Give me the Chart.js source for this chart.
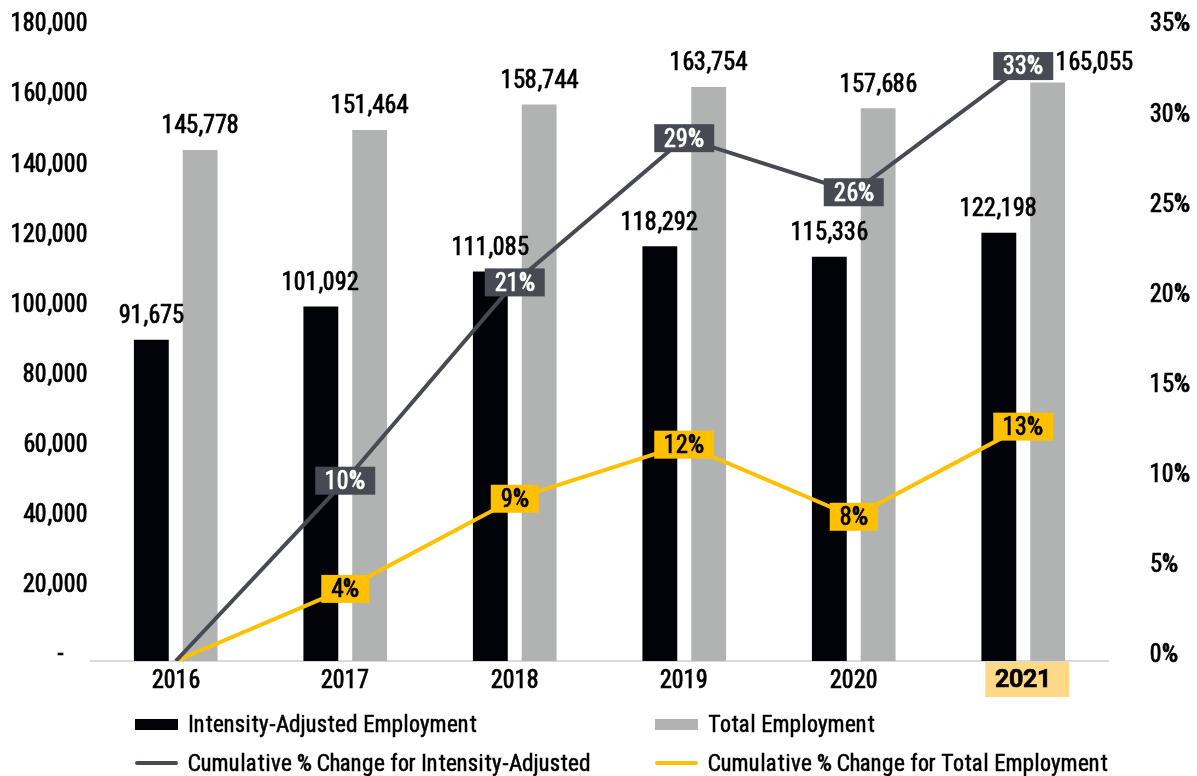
<!DOCTYPE html>
<html>
<head>
<meta charset="utf-8">
<script src="https://cdn.jsdelivr.net/npm/chart.js@4.4.1/dist/chart.umd.min.js"></script>
<style>
  @font-face { font-family: 'ChartCond'; font-weight: 400;
               src: local('Roboto Condensed'), local('RobotoCondensed-Regular'); }
  @font-face { font-family: 'ChartCond'; font-weight: 700;
               src: local('Roboto Condensed Bold'), local('RobotoCondensed-Bold'); }
  html, body { margin: 0; padding: 0; background: #ffffff; }
  #wrap { position: relative; width: 1197px; height: 776px; overflow: hidden; }
  #chart { position: absolute; left: 0; top: 0; }
  .lg-item { position: absolute; height: 30px; display: flex; align-items: center;
             font-family: 'ChartCond', 'Open Sans', sans-serif;
             font-size: 23px; color: #000; white-space: nowrap;
             -webkit-text-stroke: 0.5px #000; }
  .lg-swatch { width: 43px; margin-right: 10px; flex: none; }
</style>
</head>
<body>
<div id="wrap">
  <canvas id="chart" width="1197" height="776"></canvas>
  <div id="legend"></div>
</div>
<script>
// Employment counts per year
const years = ['2016', '2017', '2018', '2019', '2020', '2021'];
const intensityAdjusted = [91675, 101092, 111085, 118292, 115336, 122198];
const totalEmployment = [145778, 151464, 158744, 163754, 157686, 165055];

// Cumulative % change since 2016
const intensityChange = [0, 10, 21, 29, 26, 33];
const totalChange = [0, 4, 9, 12, 8, 13];

// Axis ticks
const countTicks = [0, 20000, 40000, 60000, 80000, 100000, 120000, 140000, 160000, 180000];
const pctTicks = [0, 5, 10, 15, 20, 25, 30, 35];

const highlightYear = '2021';

const FONT = "'ChartCond', 'Open Sans', sans-serif";
const STROKE = 0.7;
const C_BLACK = '#020308';
const C_GRAY = '#b1b3b3';
const C_SLATE = '#474a52';
const C_GOLD = '#ffc000';
const C_HILITE = '#ffd988';

const fmt = v => v.toLocaleString('en-US');

function label(ctx, txt, x, y, color) {
  ctx.strokeStyle = color;
  ctx.lineWidth = STROKE;
  ctx.lineJoin = 'round';
  ctx.strokeText(txt, x, y);
  ctx.fillStyle = color;
  ctx.fillText(txt, x, y);
}

// Values above the bars and boxed values on the lines
const valueLabels = {
  id: 'valueLabels',
  afterDatasetsDraw(chart) {
    const ctx = chart.ctx;
    ctx.save();
    ctx.font = `25px ${FONT}`;
    ctx.textAlign = 'center';
    ctx.textBaseline = 'middle';
    chart.data.datasets.forEach((ds, i) => {
      if (ds.type !== 'bar') return;
      const meta = chart.getDatasetMeta(i);
      meta.data.forEach((el, j) => {
        // the last total label sits beside the line's end box
        const beside = ds.label === 'Total Employment' && j === meta.data.length - 1;
        label(ctx, fmt(ds.data[j]), el.x + (beside ? 47 : 0), el.y - (beside ? 20 : 24), '#000');
      });
    });
    chart.data.datasets.forEach((ds, i) => {
      if (ds.type !== 'line') return;
      const meta = chart.getDatasetMeta(i);
      meta.data.forEach((el, j) => {
        const v = ds.data[j];
        if (!v) return;
        const txt = v + '%';
        const w = ctx.measureText(txt).width + 20;
        const h = 28;
        ctx.fillStyle = ds.boxColor;
        ctx.fillRect(el.x - w / 2, el.y - h / 2, w, h);
        label(ctx, txt, el.x, el.y + 1, ds.boxText);
      });
    });
    ctx.restore();
  }
};

// Shaded background behind the highlighted year on the category axis
const yearHighlight = {
  id: 'yearHighlight',
  beforeDraw(chart) {
    const x = chart.scales.x;
    const idx = years.indexOf(highlightYear);
    if (idx < 0) return;
    const cx = x.getPixelForValue(idx);
    const ctx = chart.ctx;
    ctx.save();
    ctx.fillStyle = C_HILITE;
    ctx.fillRect(cx - 38, x.top, 84, 36);
    ctx.restore();
  }
};

const tickText = { color: '#000', textStrokeColor: '#000', textStrokeWidth: STROKE };

function build() {
  const chart = new Chart(document.getElementById('chart'), {
    data: {
      labels: years,
      datasets: [
        {
          type: 'line', label: 'Cumulative % Change for Intensity-Adjusted',
          data: intensityChange, yAxisID: 'y2', order: 0,
          borderColor: C_SLATE, borderWidth: 4, pointRadius: 0, tension: 0,
          boxColor: C_SLATE, boxText: '#ffffff'
        },
        {
          type: 'line', label: 'Cumulative % Change for Total Employment',
          data: totalChange, yAxisID: 'y2', order: 0,
          borderColor: C_GOLD, borderWidth: 4, pointRadius: 0, tension: 0,
          boxColor: C_GOLD, boxText: '#000000'
        },
        {
          type: 'bar', label: 'Intensity-Adjusted Employment',
          data: intensityAdjusted, yAxisID: 'y', order: 1,
          backgroundColor: C_BLACK, categoryPercentage: 0.576, barPercentage: 0.714
        },
        {
          type: 'bar', label: 'Total Employment',
          data: totalEmployment, yAxisID: 'y', order: 1,
          backgroundColor: C_GRAY, categoryPercentage: 0.576, barPercentage: 0.714
        }
      ]
    },
    options: {
      responsive: false,
      animation: false,
      devicePixelRatio: 1,
      layout: { padding: { top: 30, bottom: 79, left: 0, right: 0 } },
      plugins: { legend: { display: false }, tooltip: { enabled: false } },
      scales: {
        x: {
          grid: { display: false, drawTicks: false },
          border: { display: true, color: '#d9d9d9', width: 2 },
          ticks: {
            ...tickText, padding: 5,
            font: c => ({ family: FONT, size: 25, weight: (years[c.index] === highlightYear ? 'bold' : 'normal') })
          },
          afterFit(s) { s.height = 36; }
        },
        y: {
          position: 'left', min: 0, max: 180000,
          afterBuildTicks(s) { s.ticks = countTicks.map(v => ({ value: v })); },
          grid: { display: false, drawTicks: false },
          border: { display: false },
          ticks: {
            ...tickText, padding: 3, labelOffset: -6,
            font: { family: FONT, size: 25 },
            callback: v => v === 0 ? '-    ' : fmt(v)
          },
          afterFit(s) { s.width = 91; s.paddingTop = 0; s.paddingBottom = 0; }
        },
        y2: {
          position: 'right', min: 0, max: 35,
          afterBuildTicks(s) { s.ticks = pctTicks.map(v => ({ value: v })); },
          grid: { display: false, drawTicks: false },
          border: { display: false },
          ticks: {
            ...tickText, padding: 42, labelOffset: -6,
            font: { family: FONT, size: 25 },
            callback: v => v + '%'
          },
          afterFit(s) { s.width = 89; s.paddingTop = 0; s.paddingBottom = 0; }
        }
      }
    },
    plugins: [yearHighlight, valueLabels]
  });

  // Two-column legend below the axis
  const legendItems = [
    { label: chart.data.datasets[2].label, kind: 'box', color: C_BLACK, x: 135, y: 709 },
    { label: chart.data.datasets[3].label, kind: 'box', color: C_GRAY, x: 655, y: 709 },
    { label: chart.data.datasets[0].label, kind: 'line', color: C_SLATE, x: 135, y: 748 },
    { label: chart.data.datasets[1].label, kind: 'line', color: C_GOLD, x: 655, y: 748 }
  ];
  const legend = document.getElementById('legend');
  legendItems.forEach(it => {
    const d = document.createElement('div');
    d.className = 'lg-item';
    d.style.left = it.x + 'px';
    d.style.top = it.y + 'px';
    const sw = document.createElement('span');
    sw.className = 'lg-swatch';
    sw.style.background = it.color;
    if (it.kind === 'box') { sw.style.height = '11px'; }
    else { sw.style.height = '4px'; sw.style.borderRadius = '2px'; }
    const t = document.createElement('span');
    t.textContent = it.label;
    d.appendChild(sw);
    d.appendChild(t);
    legend.appendChild(d);
  });
}

Promise.all([
  document.fonts.load("25px 'ChartCond'"),
  document.fonts.load("bold 25px 'ChartCond'")
]).catch(() => {}).then(build);
</script>
</body>
</html>
